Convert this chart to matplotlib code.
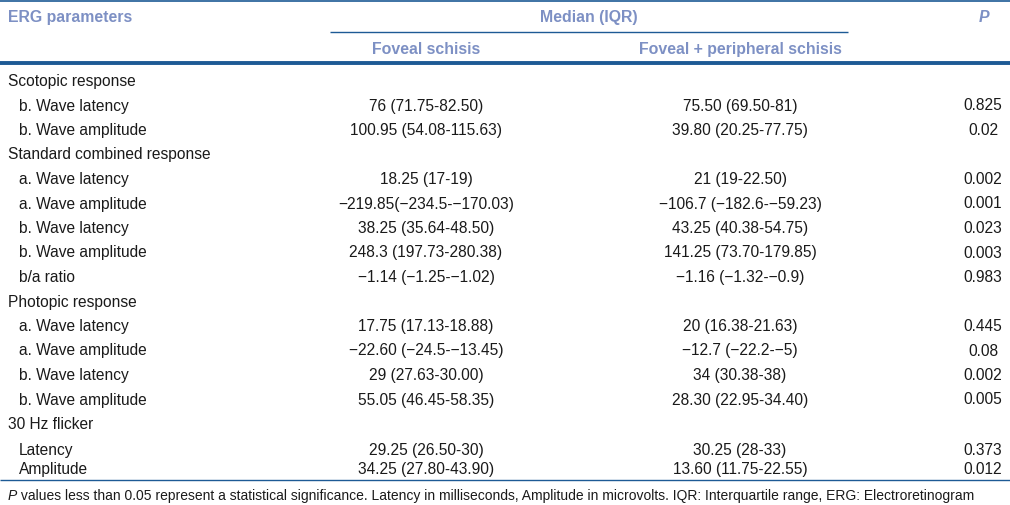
import matplotlib
matplotlib.use("Agg")
import matplotlib.pyplot as plt

plt.rcParams['font.family'] = ['Liberation Sans', 'DejaVu Sans']

# table content
labels = ["Scotopic response", "b. Wave latency", "b. Wave amplitude",
          "Standard combined response", "a. Wave latency", "a. Wave amplitude",
          "b. Wave latency", "b. Wave amplitude", "b/a ratio",
          "Photopic response", "a. Wave latency", "a. Wave amplitude",
          "b. Wave latency", "b. Wave amplitude",
          "30 Hz flicker", "Latency", "Amplitude"]
is_group = [True, False, False, True, False, False, False, False, False,
            True, False, False, False, False, True, False, False]
foveal = ["", "76 (71.75-82.50)", "100.95 (54.08-115.63)",
          "", "18.25 (17-19)", "\u2212219.85(\u2212234.5-\u2212170.03)",
          "38.25 (35.64-48.50)", "248.3 (197.73-280.38)", "\u22121.14 (\u22121.25-\u22121.02)",
          "", "17.75 (17.13-18.88)", "\u221222.60 (\u221224.5-\u221213.45)",
          "29 (27.63-30.00)", "55.05 (46.45-58.35)",
          "", "29.25 (26.50-30)", "34.25 (27.80-43.90)"]
peripheral = ["", "75.50 (69.50-81)", "39.80 (20.25-77.75)",
              "", "21 (19-22.50)", "\u2212106.7 (\u2212182.6-\u221259.23)",
              "43.25 (40.38-54.75)", "141.25 (73.70-179.85)", "\u22121.16 (\u22121.32-\u22120.9)",
              "", "20 (16.38-21.63)", "\u221212.7 (\u221222.2-\u22125)",
              "34 (30.38-38)", "28.30 (22.95-34.40)",
              "", "30.25 (28-33)", "13.60 (11.75-22.55)"]
p_values = ["", "0.825", "0.02", "", "0.002", "0.001", "0.023", "0.003", "0.983",
            "", "0.445", "0.08", "0.002", "0.005", "", "0.373", "0.012"]

footnote = (" values less than 0.05 represent a statistical significance. Latency in milliseconds, "
            "Amplitude in microvolts. IQR: Interquartile range, ERG: Electroretinogram")

# layout (pixels, text baselines)
row_y = [86 + 24.5 * i for i in range(15)] + [455, 474]
col_fov, col_per, col_p = 426, 740, 983
line_col = "#1d5a95"
head_col = "#7d90c4"
txt_col = "#1a1a1a"
fs = 11.2

fig = plt.figure(figsize=(10.1, 5.05), dpi=100)
ax = fig.add_axes([0, 0, 1, 1])
ax.set_xlim(0, 1010)
ax.set_ylim(505, 0)
ax.axis("off")

# rules
ax.hlines(0.8, 0, 1010, color=line_col, lw=1.2)
ax.hlines(32, 330, 848, color=line_col, lw=1.0)
ax.hlines(63, 0, 1010, color=line_col, lw=2.8)
ax.hlines(480, 0, 1010, color=line_col, lw=1.0)

# header
hd = dict(color=head_col, fontsize=11.4, fontweight="bold", va="baseline")
ax.text(8, 22, "ERG parameters", ha="left", **hd)
ax.text(589, 22, "Median (IQR)", ha="center", **hd)
ax.text(984, 22, "P", ha="center", fontstyle="italic", **hd)
ax.text(col_fov, 54, "Foveal schisis", ha="center", **hd)
ax.text(col_per, 54, "Foveal + peripheral schisis", ha="center", **hd)

# body
for i, lab in enumerate(labels):
    y = row_y[i]
    x = 8 if is_group[i] else 19
    ax.text(x, y, lab, ha="left", va="baseline", fontsize=fs, color=txt_col)
    ax.text(col_fov, y, foveal[i], ha="center", va="baseline", fontsize=fs, color=txt_col)
    ax.text(col_per, y, peripheral[i], ha="center", va="baseline", fontsize=fs, color=txt_col)
    ax.text(col_p, y, p_values[i], ha="center", va="baseline", fontsize=fs, color=txt_col)

# footnote: italic P followed by normal text
tp = ax.text(8, 500, "P", ha="left", va="baseline", fontsize=10.0, fontstyle="italic", color=txt_col)
fig.canvas.draw()
bb = tp.get_window_extent()
x_end = ax.transData.inverted().transform((bb.x1, bb.y0))[0]
ax.text(x_end, 500, footnote, ha="left", va="baseline", fontsize=10.0, color=txt_col)

fig.savefig("out.png", dpi=100)
